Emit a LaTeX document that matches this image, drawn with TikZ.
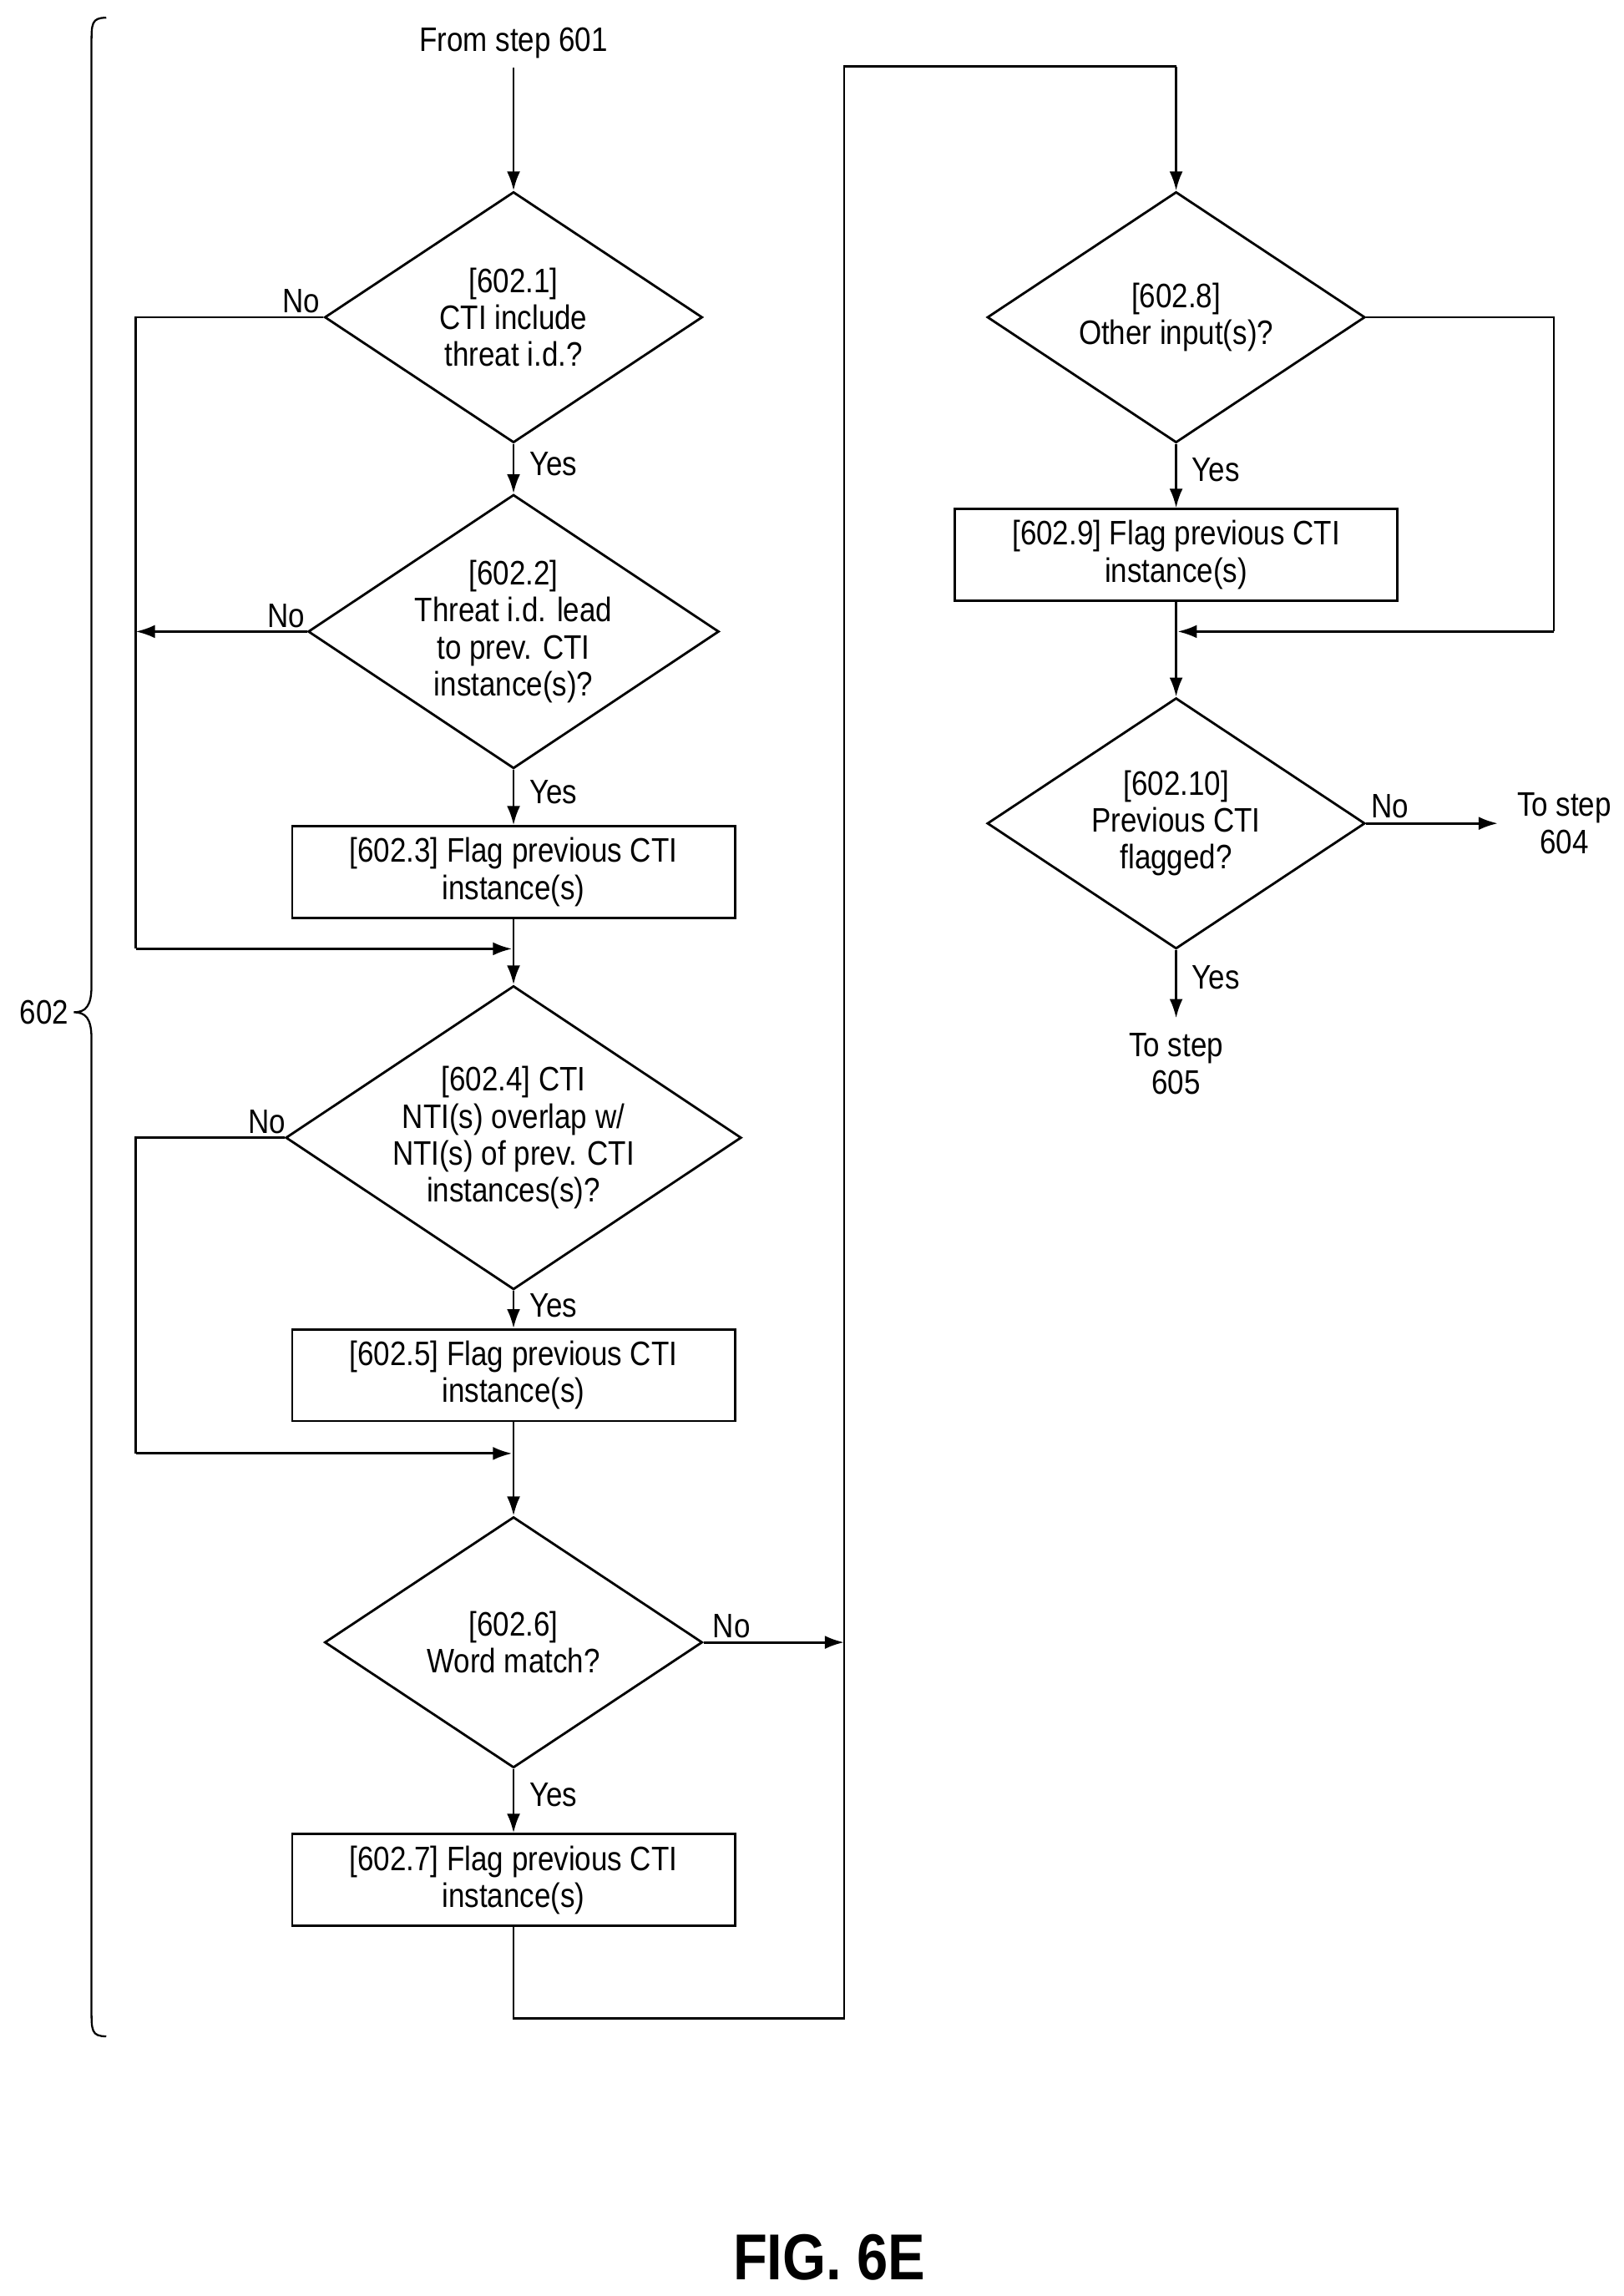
\documentclass[tikz,border=0pt]{standalone}
\usepackage{fontspec}
\setmainfont[FakeStretch=0.86]{Liberation Sans}
\usetikzlibrary{shapes.geometric,arrows.meta}
\begin{document}
\begin{tikzpicture}[x=1pt,y=-1pt,
 every node/.style={font=\fontsize{23}{25}\selectfont},
 ln/.style={line width=1.6pt},
 ar/.style={ln,-{Latex[length=13pt,width=9pt]}},
 dia/.style={draw,ln,diamond,aspect=1.5,minimum width=256pt,minimum height=170pt,inner sep=0pt,align=center},
 box/.style={draw,ln,minimum width=300pt,minimum height=62pt,inner sep=0pt,align=center},
 lab/.style={inner sep=0pt}]
\useasboundingbox (0,0) rectangle (1100,1556);
\node[lab] (start) at (348,29) {From step 601};
\node[dia] (d1) at (348,215) {[602.1]\\CTI include\\threat i.d.?};
\node[dia] (d2) at (348,428) {[602.2]\\Threat i.d. lead\\to prev. CTI\\instance(s)?};
\node[box] (b3) at (348,591) {[602.3] Flag previous CTI\\instance(s)};
\node[dia] (d4) at (348,771) {[602.4] CTI\\NTI(s) overlap w/\\NTI(s) of prev. CTI\\instances(s)?};
\node[box] (b5) at (348,932) {[602.5] Flag previous CTI\\instance(s)};
\node[dia] (d6) at (348,1113) {[602.6]\\Word match?};
\node[box] (b7) at (348,1274) {[602.7] Flag previous CTI\\instance(s)};
\node[dia] (d8) at (797,215) {[602.8]\\Other input(s)?};
\node[box] (b9) at (797,376) {[602.9] Flag previous CTI\\instance(s)};
\node[dia] (d10) at (797,558) {[602.10]\\Previous CTI\\flagged?};
\node[lab,align=center] (t604) at (1060,558) {To step\\604};
\node[lab,align=center] (t605) at (797,721) {To step\\605};
\node[lab] (n602) at (30,686) {602};
\node[lab,font=\fontsize{44}{46}\selectfont\bfseries] (fig) at (562,1530) {FIG. 6E};
\coordinate (j1) at (348,643);
\coordinate (j2) at (348,985);
\coordinate (c6) at (572,1113);
% connectors
\draw[ar] (start.south)++(0,6) -- (d1.north);
\draw[ar] (d1.south) -- node[lab,right=10pt,pos=0.4]{Yes} (d2.north);
\draw[ar] (d2.south) -- node[lab,right=10pt,pos=0.4]{Yes} (b3.north);
\draw[ln] (d1.west) -- node[lab,above=2pt,pos=0.12]{No} (92,215) -- (92,643);
\draw[ar] (92,643) -- ([xshift=-1pt]j1);
\draw[ar] (d2.west) -- node[lab,above=2pt,pos=0.12]{No} (92,428);
\draw[ln] (b3.south) -- (j1);
\draw[ar] (j1) -- (d4.north);
\draw[ar] (d4.south) -- node[lab,right=10pt,pos=0.4]{Yes} (b5.north);
\draw[ln] (d4.west) -- node[lab,above=2pt,pos=0.12]{No} (92,771) -- (92,985);
\draw[ar] (92,985) -- ([xshift=-1pt]j2);
\draw[ln] (b5.south) -- (j2);
\draw[ar] (j2) -- (d6.north);
\draw[ar] (d6.east) -- node[lab,above=2pt,pos=0.2]{No} (c6);
\draw[ar] (d6.south) -- node[lab,right=10pt,pos=0.4]{Yes} (b7.north);
\draw[ln] (b7.south) -- (348,1368) -- (572,1368) -- (572,45) -- (797,45);
\draw[ar] (797,45) -- (d8.north);
\draw[ar] (d8.south) -- node[lab,right=10pt,pos=0.4]{Yes} (b9.north);
\draw[ln] (d8.east) -- (1053,215) -- (1053,428);
\draw[ar] (1053,428) -- (798,428);
\draw[ar] (b9.south) -- (d10.north);
\draw[ar] (d10.east) -- node[lab,above=3pt,pos=0.18]{No} (1015,558);
\draw[ar] (d10.south) -- node[lab,right=10pt,pos=0.4]{Yes} (797,690);
% brace
\draw[line width=1.3pt] (72,12) .. controls (62,12) and (62,16) .. (62,30) -- (62,668) .. controls (62,682) and (58,686) .. (50,686) .. controls (58,686) and (62,690) .. (62,704) -- (62,1362) .. controls (62,1376) and (62,1380) .. (72,1380);
\end{tikzpicture}
\end{document}
